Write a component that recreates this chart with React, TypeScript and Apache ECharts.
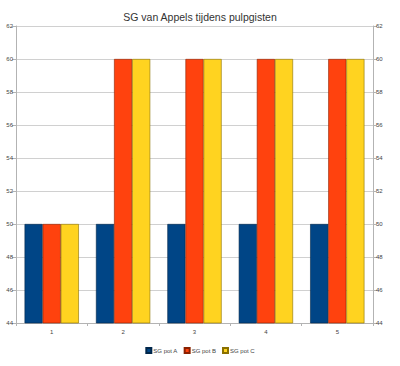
import React, { useEffect, useRef } from "react";
import * as echarts from "echarts";

const categories = ["1", "2", "3", "4", "5"];
const potA = [50, 50, 50, 50, 50];
const potB = [50, 60, 60, 60, 60];
const potC = [50, 60, 60, 60, 60];
const seriesNames = ["SG pot A", "SG pot B", "SG pot C"];
const colors = ["#004586", "#ff420e", "#ffd320"];
const borders = ["#00264a", "#8a2000", "#8a7000"];

export default function App() {
  const ref = useRef<HTMLDivElement>(null);
  useEffect(() => {
    if (!ref.current) return;
    const chart = echarts.init(ref.current, undefined, { renderer: "svg" });
    const font = "Liberation Sans, Arial, sans-serif";
    const yAxisBase = {
      type: "value" as const,
      min: 44,
      max: 62,
      interval: 2,
      axisLine: { show: true, lineStyle: { color: "#b3b3b3" } },
      axisTick: { show: true, length: 4, lineStyle: { color: "#b3b3b3" } },
      axisLabel: { fontSize: 6, color: "#444", fontFamily: font, margin: 3 },
    };
    chart.setOption({
      animation: false,
      title: {
        text: "SG van Appels tijdens pulpgisten",
        left: "center",
        top: 6,
        textStyle: { fontSize: 10.5, fontWeight: "normal", color: "#333", fontFamily: font },
      },
      legend: {
        bottom: 12,
        left: "center",
        padding: 0,
        itemWidth: 5,
        itemHeight: 5,
        itemGap: 6,
        icon: "rect",
        textStyle: { fontSize: 6, color: "#444", fontFamily: font, padding: [0, 0, 0, -3] },
        data: seriesNames,
      },
      grid: { left: 16, right: 27, top: 26, bottom: 43 },
      xAxis: {
        type: "category",
        data: categories,
        axisLine: { lineStyle: { color: "#b3b3b3" } },
        axisTick: { show: true, length: 3, lineStyle: { color: "#b3b3b3" } },
        axisLabel: { fontSize: 6, color: "#444", fontFamily: font, margin: 6 },
      },
      yAxis: [
        {
          ...yAxisBase,
          position: "left",
          splitLine: { show: true, lineStyle: { color: "#d0d0d0" } },
        },
        {
          ...yAxisBase,
          position: "right",
          splitLine: { show: false },
        },
      ],
      series: [potA, potB, potC].map((d, i) => ({
        name: seriesNames[i],
        type: "bar",
        data: d,
        barGap: "0%",
        barCategoryGap: "24%",
        itemStyle: { color: colors[i], borderColor: borders[i], borderWidth: 0.6 },
      })),
    });
    return () => chart.dispose();
  }, []);
  return (
    <div
      ref={ref}
      style={{ position: "fixed", left: 0, top: 0, width: 400, height: 366, background: "#fff" }}
    />
  );
}
